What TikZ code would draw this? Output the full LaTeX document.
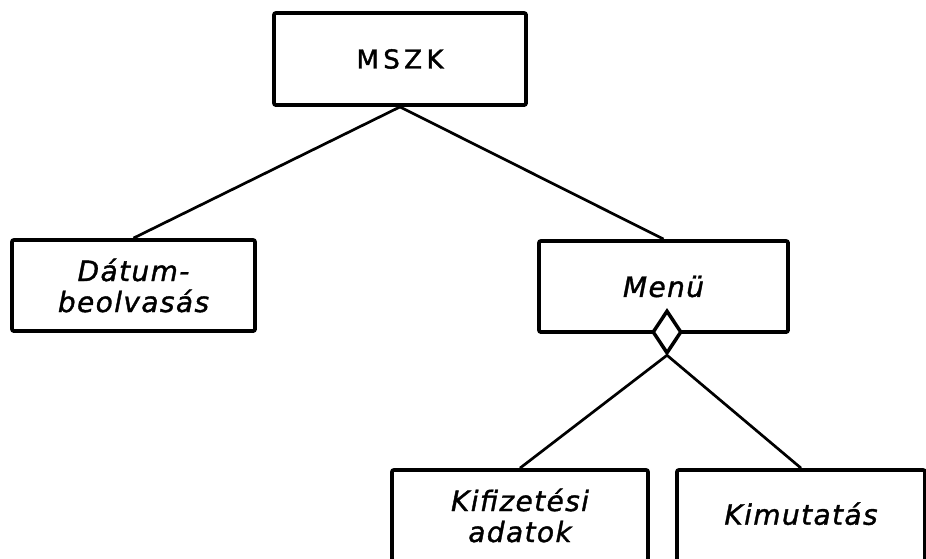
\documentclass[tikz,border=0pt]{standalone}
\usepackage{fontspec}
\usetikzlibrary{shapes.geometric}
\newfontfamily\lab[LetterSpace=5,FakeBold=1.3]{DejaVu Sans}
\newfontfamily\labwide[LetterSpace=17,FakeBold=1.5]{DejaVu Sans}
\begin{document}
\begin{tikzpicture}[x=1pt,y=-1pt,
  box/.style={draw, line width=3.8pt, rounded corners=2pt, inner sep=0pt, minimum height=91pt, align=center},
  itl/.style={font=\lab\itshape\fontsize{28}{31}\selectfont},
  link/.style={line width=2.7pt},
  agg/.style={draw, fill=white, diamond, line width=3.5pt, inner sep=0pt, minimum width=29pt, minimum height=43pt}]
\useasboundingbox (0,0) rectangle (926,558);
\clip (0,0) rectangle (926,558);
\node[box, minimum width=252pt, minimum height=92pt, font=\labwide\fontsize{26}{30}\selectfont] (mszk) at (400,59) {MSZK};
\node[box, itl, minimum width=243pt] (datum) at (133.5,285.5) {Dátum-\\beolvasás};
\node[box, itl, minimum width=249pt] (menu) at (663.5,286.5) {Menü};
\node[box, itl, minimum width=256pt] (kif) at (520,515.5) {Kifizetési\\adatok};
\node[box, itl, minimum width=248pt] (kim) at (801,515.5) {\raisebox{4pt}{Kimutatás}};
\node[agg] (dia) at (667,332) {};
\draw[link] (mszk.south) -- (datum.north);
\draw[link] (mszk.south) -- (menu.north);
\draw[link] (dia.south) -- (kif.north);
\draw[link] (dia.south) -- (kim.north);
\end{tikzpicture}
\end{document}
